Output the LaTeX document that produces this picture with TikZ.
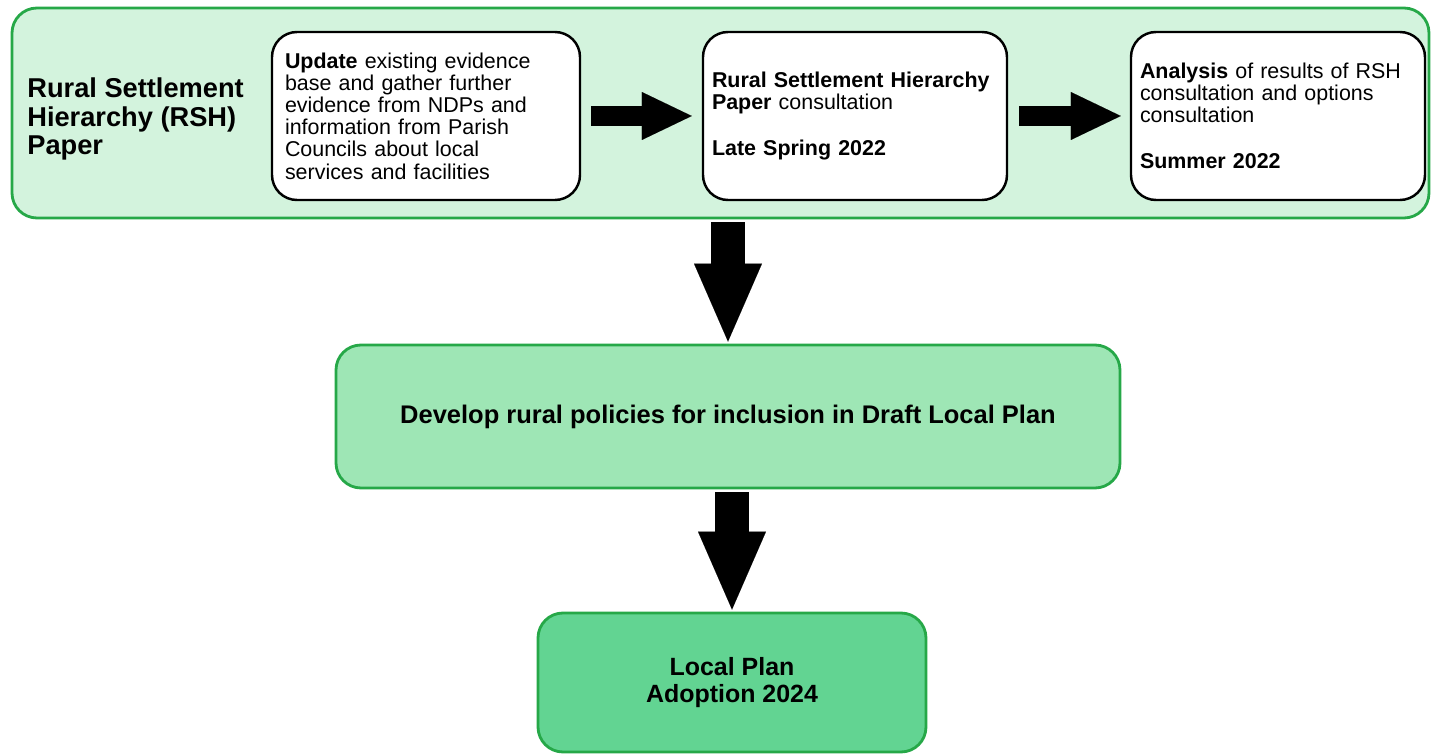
\documentclass[tikz,border=0pt]{standalone}
\usepackage{fontspec}
\setmainfont{Liberation Sans}
\usetikzlibrary{arrows.meta}
\definecolor{panelgreen}{RGB}{211,243,221}
\definecolor{midgreen}{RGB}{158,230,181}
\definecolor{deepgreen}{RGB}{98,212,146}
\definecolor{edgegreen}{RGB}{38,168,72}

\begin{document}
\begin{tikzpicture}[draw=black!100,scale=1.0]
 	\def \rowoneht{-2.32cm}
 	\def \rowtwoht{-8.33cm}
 	\def \rowthreeht{-13.65cm}
 	\tikzstyle{p-node}=[rounded corners=0.5cm,draw=edgegreen,line width=1.6pt,inner sep=0pt]
 	\tikzstyle{s-node}=[rounded corners=0.5cm,draw=black,fill=white,line width=1.4pt,inner ysep=0pt,minimum height=3.36cm,align=left,font=\fontsize{12.2}{12.6}\selectfont]
 	\tikzstyle{annot}=[inner sep=0pt,align=left,font=\fontsize{15.5}{16}\selectfont\bfseries]
 	\tikzstyle{h-arrow}=[line width=0.4cm,-{Triangle[length=1.0cm,width=0.96cm,line width=0.01pt]}]
 	\tikzstyle{v-arrow}=[line width=0.68cm,-{Triangle[length=1.56cm,width=1.36cm,line width=0.01pt]}]
 	\useasboundingbox (0,0) rectangle (28.62,-15.08);
 	% panel
 	\node[p-node,fill=panelgreen,minimum width=28.34cm,minimum height=4.2cm] (rsh) at (14.41cm,-2.26cm) {};
 	\node[annot,anchor=west] (rsh-label) at (0.54cm,-2.38cm) {Rural Settlement\\Hierarchy (RSH)\\Paper};
 	% stages
 	\node[s-node,inner xsep=0.26cm,text width=5.64cm] (update) at (8.52cm,\rowoneht)
 		{\textbf{Update} existing evidence\\base and gather further\\evidence from NDPs and\\information from Parish\\Councils about local\\services and facilities};
 	\node[s-node,inner xsep=0.18cm,text width=5.72cm] (consult) at (17.1cm,\rowoneht)
 		{\textbf{Rural Settlement Hierarchy}\\\textbf{Paper} consultation\\[0.48cm]\textbf{Late Spring 2022}};
 	\node[s-node,inner xsep=0.18cm,text width=5.52cm] (analysis) at (25.56cm,\rowoneht)
 		{\textbf{Analysis} of results of RSH\\consultation and options\\consultation\\[0.48cm]\textbf{Summer 2022}};
 	% policies and adoption
 	\node[p-node,fill=midgreen,minimum width=15.68cm,minimum height=2.86cm,font=\fontsize{14.5}{15}\selectfont\bfseries] (policies) at (14.56cm,\rowtwoht)
 		{Develop rural policies for inclusion in Draft Local Plan};
 	\node[p-node,fill=deepgreen,minimum width=7.76cm,minimum height=2.78cm,align=center,font=\fontsize{14.2}{15.3}\selectfont\bfseries] (adoption) at (14.64cm,\rowthreeht)
 		{Local Plan\\Adoption 2024};
 	\path (update.east)	edge[h-arrow,shorten <=0.2cm,shorten >=0.2cm]	(consult.west)
 		(consult.east)	edge[h-arrow,shorten <=0.22cm,shorten >=0.18cm]	(analysis.west)
 		(rsh.south -| policies.north)	edge[v-arrow,shorten <=0.06cm,shorten >=0.04cm]	(policies.north)
 		(policies.south -| adoption.north)	edge[v-arrow,shorten <=0.06cm,shorten >=0.04cm]	(adoption.north);
\end{tikzpicture}
\end{document}
